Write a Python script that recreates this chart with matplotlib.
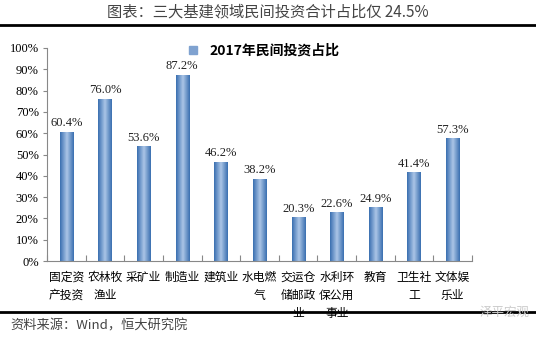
import matplotlib.pyplot as plt
import numpy as np
from matplotlib.lines import Line2D

plt.rcParams['font.family'] = ['Noto Sans CJK SC', 'DejaVu Sans']

categories = ['固定资\n产投资', '农林牧\n渔业', '采矿业', '制造业', '建筑业', '水电燃\n气',
              '交运仓\n储邮政\n业', '水利环\n保公用\n事业', '教育', '卫生社\n工', '文体娱\n乐业']
values = [60.4, 76.0, 53.6, 87.2, 46.2, 38.2, 20.3, 22.6, 24.9, 41.4, 57.3]
yticks = [0, 10, 20, 30, 40, 50, 60, 70, 80, 90, 100]

fig = plt.figure(figsize=(5.36, 3.40), dpi=100)
ax = fig.add_axes([47 / 536, 1 - 261 / 340, 425 / 536, 213 / 340])

x = np.arange(len(values))
w = 0.34

# gradient bars
grad = np.linspace(0, 1, 64)
grad = 1 - np.abs(grad - 0.5) * 2
cmap = plt.matplotlib.colors.LinearSegmentedColormap.from_list('b', ['#3a6fb0', '#a9c4e6'])
for xi, v in zip(x, values):
    ax.imshow(grad[np.newaxis, :], extent=[xi - w / 2, xi + w / 2, 0, v], aspect='auto',
              cmap=cmap, zorder=2)
    ax.text(xi, v + 1.5, f'{v:.1f}%', ha='center', va='bottom', fontsize=9,
            family='Liberation Serif', color='#222222')

ax.set_xlim(-0.5, len(values) - 0.5)
ax.set_ylim(0, 100)
ax.set_yticks(yticks)
ax.set_yticklabels([f'{t}%' for t in yticks], family='Liberation Serif', fontsize=9)
ax.set_xticks(np.arange(len(values) + 1) - 0.5, minor=False)
ax.set_xticklabels([])
ax.set_xticks(x, minor=True)
ax.set_xticklabels(categories, minor=True, fontsize=8.5, linespacing=1.5, va='top')
ax.tick_params(axis='x', which='minor', length=0, pad=7)
ax.tick_params(axis='x', which='major', length=4, direction='in', color='#888888')
ax.tick_params(axis='y', length=3, direction='out', color='#888888', pad=3)
for s in ['top', 'right']:
    ax.spines[s].set_visible(False)
for s in ['left', 'bottom']:
    ax.spines[s].set_color('#888888')

# legend
ax.legend(handles=[Line2D([], [], marker='s', color='#7fa2d0', linestyle='', markersize=6)],
          labels=['2017年民间投资占比'], loc='upper center', bbox_to_anchor=(0.5, 1.08),
          frameon=False, prop={'weight': 'bold', 'size': 10}, handletextpad=0.2)

# header and footer
fig.text(0.5, 1 - 12 / 340, '图表：三大基建领域民间投资合计占比仅 24.5%', ha='center', va='center',
         fontsize=11, color='#444444')
fig.add_artist(Line2D([0, 1], [1 - 25 / 340] * 2, color='black', linewidth=2))
fig.add_artist(Line2D([0, 1], [1 - 312 / 340] * 2, color='black', linewidth=2))
fig.text(10 / 536, 1 - 326 / 340, '资料来源：Wind，恒大研究院', ha='left', va='center',
         fontsize=9.5, style='italic', color='#444444')
fig.text(530 / 536, 1 - 312 / 340, '泽平宏观', ha='right', va='center', fontsize=9,
         color='#cccccc')

fig.savefig('out.png', dpi=100)
